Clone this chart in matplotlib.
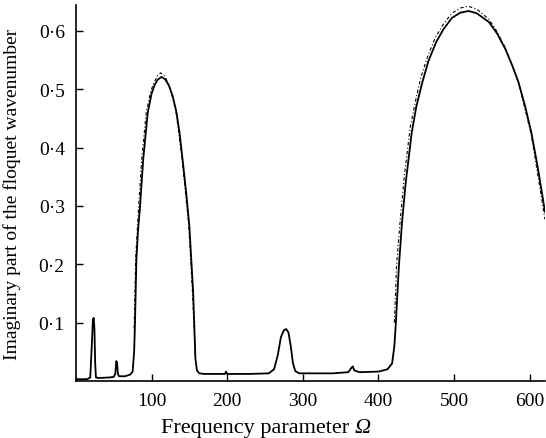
import matplotlib
matplotlib.use("Agg")
import matplotlib.pyplot as plt

plt.rcParams["font.family"] = ["Liberation Serif", "DejaVu Serif"]

# full model (solid)
omega = [0, 15, 19, 21, 22.5, 23.5, 24.5, 25.5, 26.5, 30, 45, 50, 52, 53.5, 54.5,
         55.5, 57, 65, 72, 75, 77, 78, 80, 82, 84.5, 89, 95, 100, 104, 108, 113,
         118, 123, 128, 133, 137, 141, 146, 150, 155, 158, 160, 163, 170, 197,
         198.5, 200, 230, 255, 262, 267, 271, 275, 278, 281, 284, 287, 290, 295,
         340, 360, 364, 366, 368, 375, 400, 412, 418, 421, 423, 425, 427, 431,
         436, 444, 450, 458, 466, 476, 486, 497, 508, 519, 530, 546, 557, 568,
         577, 585, 594, 602, 610, 616, 620]
im_k = [0.003, 0.003, 0.006, 0.06, 0.105, 0.108, 0.09, 0.03, 0.006, 0.005, 0.006,
        0.007, 0.012, 0.034, 0.030, 0.012, 0.008, 0.008, 0.011, 0.016, 0.05,
        0.094, 0.209, 0.255, 0.294, 0.38, 0.46, 0.492, 0.507, 0.516, 0.521,
        0.517, 0.506, 0.488, 0.46, 0.425, 0.38, 0.32, 0.265, 0.152, 0.038,
        0.018, 0.013, 0.012, 0.012, 0.016, 0.012, 0.012, 0.013, 0.02, 0.045,
        0.075, 0.087, 0.089, 0.083, 0.06, 0.03, 0.017, 0.013, 0.013, 0.015,
        0.022, 0.025, 0.018, 0.015, 0.016, 0.02, 0.03, 0.06, 0.1, 0.15, 0.197,
        0.27, 0.34, 0.426, 0.47, 0.512, 0.548, 0.58, 0.603, 0.622, 0.631, 0.634,
        0.630, 0.615, 0.595, 0.568, 0.54, 0.512, 0.47, 0.426, 0.37, 0.323, 0.29]

# approximate model (dash-dot), only where it departs visibly
omega_a1 = [77, 79, 83, 87, 93, 99, 104, 108, 112, 117, 123, 132, 140, 149, 154, 158]
im_k_a1 = [0.09, 0.21, 0.30, 0.38, 0.46, 0.497, 0.513, 0.523, 0.528, 0.523, 0.508,
           0.465, 0.385, 0.27, 0.155, 0.04]
omega_a2 = [421, 424, 429, 434, 442, 449, 456, 465, 475, 486, 497, 508, 519, 530,
            546, 557, 568, 585, 602, 616, 620]
im_k_a2 = [0.1, 0.2, 0.28, 0.35, 0.435, 0.48, 0.52, 0.556, 0.588, 0.612, 0.63,
           0.639, 0.642, 0.637, 0.62, 0.598, 0.57, 0.512, 0.422, 0.31, 0.277]

x_ticks = [100, 200, 300, 400, 500, 600]
y_ticks = [0.1, 0.2, 0.3, 0.4, 0.5, 0.6]
y_tick_labels = ["0·1", "0·2", "0·3", "0·4", "0·5", "0·6"]

fig = plt.figure(figsize=(5.46, 4.39), dpi=100)
ax = fig.add_axes([0.139, 0.13, 0.859, 0.856])

ax.plot(omega, im_k, color="black", linewidth=1.3)
for xs, ys in [(omega_a1, im_k_a1), (omega_a2, im_k_a2)]:
    ax.plot(xs, ys, color="black", linewidth=0.8, linestyle=(0, (3, 2, 1, 2)))

ax.set_xlim(0, 620)
ax.set_ylim(0, 0.644)
ax.set_xticks(x_ticks)
ax.set_yticks(y_ticks)
ax.set_yticklabels(y_tick_labels)
ax.tick_params(direction="in", length=5, width=1, labelsize=14,
               top=False, right=False)
ax.tick_params(axis="x", pad=8)
ax.tick_params(axis="y", pad=8)
for side in ["top", "right"]:
    ax.spines[side].set_visible(False)
for side in ["left", "bottom"]:
    ax.spines[side].set_linewidth(1.2)

ax.set_ylabel("Imaginary part of the floquet wavenumber", fontsize=14)
ax.yaxis.set_label_coords(-0.118, 0.5)

# x label: plain text followed by an italic Omega
renderer = fig.canvas.get_renderer()
t1 = fig.text(0, 0.025, "Frequency parameter ", fontsize=16, va="center")
t2 = fig.text(0, 0.025, "Ω", fontsize=16, style="italic", va="center")
w1 = t1.get_window_extent(renderer).width
w2 = t2.get_window_extent(renderer).width
x0 = 266 - (w1 + w2) / 2
t1.set_x(x0 / 546)
t2.set_x((x0 + w1) / 546)

fig.savefig("out.png", dpi=100)
